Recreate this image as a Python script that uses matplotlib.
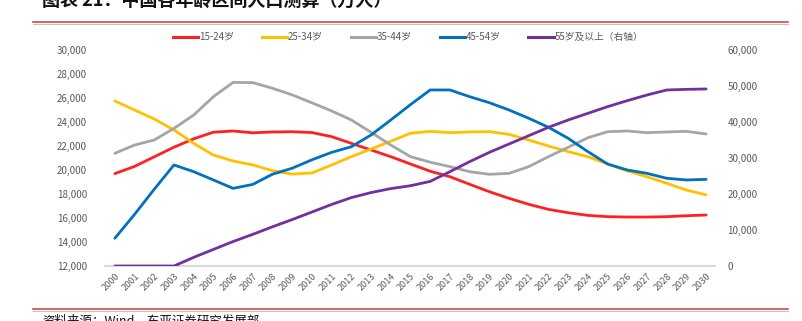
import matplotlib
matplotlib.use("Agg")
import matplotlib.pyplot as plt
from matplotlib.lines import Line2D
from matplotlib.ticker import FuncFormatter

plt.rcParams['font.family'] = ['Noto Sans CJK SC', 'DejaVu Sans']

years = [str(y) for y in range(2000, 2031)]

s15_24 = [19700, 20300, 21100, 21900, 22600, 23150, 23250, 23100, 23170, 23190,
          23120, 22780, 22220, 21670, 21110, 20500, 19900, 19440, 18810, 18190,
          17640, 17140, 16720, 16440, 16220, 16110, 16080, 16080, 16110, 16190, 16250]
s25_34 = [25750, 25000, 24250, 23330, 22220, 21250, 20750, 20420, 19940, 19660,
          19750, 20420, 21110, 21750, 22400, 23060, 23220, 23110, 23170, 23200,
          22970, 22500, 22000, 21530, 21110, 20500, 19920, 19440, 18890, 18330, 17920]
s35_44 = [21390, 22080, 22500, 23470, 24580, 26110, 27300, 27280, 26810, 26260,
          25600, 24920, 24170, 23140, 22080, 21110, 20650, 20280, 19860, 19640,
          19720, 20280, 21110, 21890, 22690, 23190, 23250, 23110, 23170, 23220, 23000]
s45_54 = [14310, 16300, 18400, 20420, 19860, 19170, 18470, 18800, 19650, 20150,
          20850, 21470, 21940, 22920, 24170, 25450, 26670, 26670, 26110, 25610,
          25000, 24310, 23560, 22640, 21530, 20500, 20000, 19720, 19310, 19170, 19220]
s55_plus = [0, 0, 0, 0, 2400, 4600, 6800, 8800, 10900, 12900,
            15000, 17100, 19000, 20400, 21500, 22300, 23500, 26200, 28980, 31570,
            33890, 36200, 38520, 40560, 42410, 44260, 45930, 47500, 48890, 49070, 49170]

labels = ['15-24岁', '25-34岁', '35-44岁', '45-54岁', '55岁及以上（右轴）']
colors = ['#FF2121', '#FFC000', '#A5A5A5', '#0070C0', '#7030A0']

title = '图表 21：中国各年龄区间人口测算（万人）'
source = '资料来源：Wind，东亚证券研究发展部'

W, H = 802, 321
fig = plt.figure(figsize=(W / 100, H / 100), dpi=100)

ax = fig.add_axes([105 / W, 1 - 266 / H, (715 - 105) / W, (266 - 50) / H])
ax2 = ax.twinx()

x = list(range(len(years)))
lw = 2.0
for s, c in zip([s15_24, s25_34, s35_44, s45_54], colors[:4]):
    ax.plot(x, s, color=c, lw=lw, solid_joinstyle='round', solid_capstyle='round', zorder=3)
ax2.plot(x, s55_plus, color=colors[4], lw=lw, solid_joinstyle='round', solid_capstyle='round', zorder=3)

ax.set_xlim(-0.5, 30.45)
ax.set_ylim(12000, 30000)
ax2.set_ylim(0, 60000)
ax.set_yticks(range(12000, 30001, 2000))
ax2.set_yticks(range(0, 60001, 10000))
fmt = FuncFormatter(lambda v, p: f'{int(v):,}')
ax.yaxis.set_major_formatter(fmt)
ax2.yaxis.set_major_formatter(fmt)

ax.set_xticks(x)
ax.set_xticklabels(years, rotation=45, ha='right', rotation_mode='anchor')

for a in (ax, ax2):
    for sp in a.spines.values():
        sp.set_visible(False)
    a.tick_params(length=0, colors='#595959', labelsize=7)
ax.spines['bottom'].set_visible(True)
ax.spines['bottom'].set_color('#D9D9D9')
ax.spines['bottom'].set_linewidth(1.5)
ax.tick_params(axis='x', pad=4, labelsize=6.5)
ax.tick_params(axis='y', pad=13)
ax2.tick_params(axis='y', pad=9)

handles = [Line2D([0], [0], color=c, lw=2.2) for c in colors]
fig.legend(handles, labels, loc='center', bbox_to_anchor=(408 / W, 1 - 37 / H),
           ncol=5, frameon=False, fontsize=7, handlelength=2.6, handletextpad=0.05,
           columnspacing=2.9, labelcolor='#595959')

fig.text(42 / W, 1 - 1 / H, title, fontsize=13, fontweight='bold', va='center', ha='left',
         color='#111111')
fig.add_artist(Line2D([33 / W, 788 / W], [1 - 22 / H, 1 - 22 / H], color='#C0504D', lw=1.2))
fig.add_artist(Line2D([33 / W, 788 / W], [1 - 23.5 / H, 1 - 23.5 / H], color='#E8B4B3', lw=0.8))
fig.add_artist(Line2D([33 / W, 788 / W], [1 - 309 / H, 1 - 309 / H], color='#C0504D', lw=1.2))
fig.add_artist(Line2D([33 / W, 788 / W], [1 - 310.5 / H, 1 - 310.5 / H], color='#E8B4B3', lw=0.8))
fig.text(42 / W, 1 - 315 / H, source, fontsize=9, va='top', ha='left', color='#111111')

fig.savefig('out.png', dpi=100)
